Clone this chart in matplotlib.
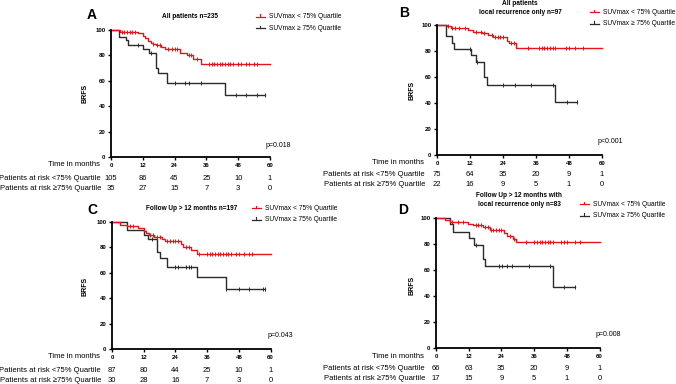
import numpy as np
import matplotlib
matplotlib.use('Agg')
import matplotlib.pyplot as plt
from matplotlib.lines import Line2D
from matplotlib.transforms import blended_transform_factory

plt.rcParams['font.family'] = ['Liberation Sans', 'DejaVu Sans']

W, H = 676, 384
RED = '#e8141c'
BLK = '#2b2b2b'

time_ticks = [0, 12, 24, 36, 48, 60]
surv_ticks = [0, 20, 40, 60, 80, 100]
legend_low = 'SUVmax < 75% Quartile'
legend_high = 'SUVmax \u2265 75% Quartile'
row_low = 'Patients at risk <75% Quartile'
row_high = 'Patients at risk \u226575% Quartile'

# A: all patients
a_low_t = [0, 3.5, 10, 12, 13, 14, 15, 16, 17, 19, 20.5, 26, 28.5, 31, 34, 60]
a_low_s = [100, 98.5, 97.5, 95.5, 93.5, 91.5, 90, 89, 88, 86.5, 85, 82, 80, 77.5, 73, 73]
a_low_c = [4, 5, 6, 7, 8, 9, 16, 17.5, 18.5, 21.5, 23, 24, 25, 29.5, 30, 32.5,
           37, 38, 39, 40, 41, 42, 43, 44, 45, 46, 48, 49, 51, 52, 54, 55]
a_high_t = [0, 3, 5.5, 6.3, 12.2, 14.3, 16.8, 17.8, 21, 43, 58]
a_high_s = [100, 94.5, 92, 88, 85, 81.5, 70, 66.5, 58.5, 48.6, 48.6]
a_high_c = [10, 15, 24, 28, 29.5, 34, 47, 51, 55, 58]
a_risk_low = [105, 86, 45, 25, 10, 1]
a_risk_high = [35, 27, 15, 7, 3, 0]

# B: all patients, local recurrence only
b_low_t = [0, 3.5, 5, 11.4, 13.2, 16.2, 18.7, 20.5, 25.3, 26.3, 28.7, 60]
b_low_s = [100, 99, 98, 96.2, 94.6, 93.6, 92.3, 91, 88, 86, 82.5, 82.5]
b_low_c = [4, 5.5, 6.5, 8, 10, 14, 16, 17, 20, 21, 22, 23, 24, 27, 28, 33,
           37, 38, 39, 40, 41, 42, 43, 47, 48, 50, 53]
b_high_t = [0, 3.3, 5.5, 6.2, 12.2, 14, 17, 18.3, 43, 51]
b_high_s = [100, 91.5, 86.4, 81.5, 76.9, 71.8, 59.7, 53.8, 41, 41]
b_high_c = [12, 14.5, 24, 28.3, 34.2, 42.3, 47.1, 51]
b_risk_low = [75, 64, 35, 20, 9, 1]
b_risk_high = [22, 16, 9, 5, 1, 0]

# C: follow up > 12 months
c_low_t = [0, 3, 5.5, 10, 12, 13, 14, 16, 19, 20, 26, 27, 30, 32, 60]
c_low_s = [100, 98, 96.5, 95, 93, 91, 90, 88.5, 87, 85, 83, 80.5, 78, 75, 75]
c_low_c = [7, 8, 14.5, 15.5, 17, 18, 21, 22, 23, 24, 25, 28, 29, 33, 36, 37,
           38, 39, 40, 41, 42, 43, 44, 45, 47, 48, 50, 52, 53]
c_high_t = [0, 5.5, 12, 13.5, 17, 18, 21, 32, 43, 58]
c_high_s = [100, 93.5, 90, 87, 76, 72, 64.5, 57, 47.5, 47.5]
c_high_c = [15, 24, 25, 28, 29, 30, 43, 48, 52, 57, 58]
c_risk_low = [87, 80, 44, 25, 10, 1]
c_risk_high = [30, 28, 16, 7, 3, 0]

# D: follow up > 12 months, local recurrence only
d_low_t = [0, 3.3, 5.1, 11.9, 13.7, 17.4, 19.9, 24.8, 26, 28.4, 29.4, 60]
d_low_s = [100, 98.7, 97.2, 95.7, 94.6, 92.9, 91.1, 88.5, 86, 83.9, 81.4, 81.4]
d_low_c = [6, 8, 10, 14.5, 15.5, 16.5, 18, 19, 20, 21, 22, 23, 24, 27, 28.5, 33,
           36, 37, 38, 39, 40, 41, 42, 43, 46, 47, 48, 51, 53]
d_high_t = [0, 5.1, 6.4, 12.2, 14.1, 17.2, 18, 43.1, 51]
d_high_s = [100, 95.4, 89.6, 84.7, 79.3, 68.6, 62.8, 47, 47]
d_high_c = [14.7, 23, 24.1, 26, 27.9, 34, 42, 47, 51]
d_risk_low = [66, 63, 35, 20, 9, 1]
d_risk_high = [17, 15, 9, 5, 1, 0]

# layout in pixels: letter, title, p, axes box (x0, x60, y100, y0), label x, label align
panels = [
    ('A', 'All patients n=235', 'p=0.018', (111, 270, 30, 157), 101,
     (a_low_t, a_low_s, a_low_c), (a_high_t, a_high_s, a_high_c), a_risk_low, a_risk_high,
     dict(letter=(92, 15), title=(190, 17), leg=(260, 16.5), p=(291, 145), brfs=(85, 93),
          tim=165, rows=(179, 188.5))),
    ('B', 'All patients\nlocal recurrence only n=97', 'p<0.001', (437, 602, 25, 155), 425,
     (b_low_t, b_low_s, b_low_c), (b_high_t, b_high_s, b_high_c), b_risk_low, b_risk_high,
     dict(letter=(404, 13), title=(520, 8), leg=(594, 12.3), p=(623, 141.5), brfs=(412, 90),
          tim=162.5, rows=(174.5, 184.5))),
    ('C', 'Follow Up > 12 months n=197', 'p=0.043', (112, 270.5, 222, 349), 101,
     (c_low_t, c_low_s, c_low_c), (c_high_t, c_high_s, c_high_c), c_risk_low, c_risk_high,
     dict(letter=(92, 210.5), title=(192, 208.5), leg=(256, 208.3), p=(293, 335.5), brfs=(85, 286.5),
          tim=356.5, rows=(371, 380))),
    ('D', 'Follow Up > 12 months with\nlocal recurrence only n=83', 'p=0.008', (436, 599.5, 218, 348), 425,
     (d_low_t, d_low_s, d_low_c), (d_high_t, d_high_s, d_high_c), d_risk_low, d_risk_high,
     dict(letter=(403, 210), title=(519, 200), leg=(584, 204.3), p=(621, 334.3), brfs=(412.5, 285),
          tim=356.5, rows=(369, 379))),
]

fig = plt.figure(figsize=(W / 100, H / 100), dpi=100)


def px(x, y):
    return x / W, 1 - y / H


def surv_at(t, s, times):
    idx = np.searchsorted(np.asarray(t), np.asarray(times), side='right') - 1
    return np.asarray(s)[np.clip(idx, 0, len(s) - 1)]


for letter, title, pval, box, lab_x, low, high, risk_low, risk_high, pos in panels:
    x0, x60, y100, y0 = box
    ax = fig.add_axes([x0 / W, 1 - y0 / H, (x60 - x0) / W, (y0 - y100) / H])
    ax.set_xlim(0, 60)
    ax.set_ylim(0, 100)
    for (t, s, c), col in ((high, BLK), (low, RED)):
        ax.step(t, s, where='post', color=col, lw=1.0, clip_on=False)
        ax.plot(c, surv_at(t, s, c), ls='none', marker='|', ms=3.4, mew=0.7,
                color=col, clip_on=False)
    for side in ('top', 'right'):
        ax.spines[side].set_visible(False)
    for side in ('left', 'bottom'):
        ax.spines[side].set_linewidth(1.3)
    ax.set_xticks(time_ticks)
    ax.set_yticks(surv_ticks)
    ax.tick_params(direction='out', length=2.5, width=1.0, labelsize=4.3, pad=1.5)
    for lb in ax.get_xticklabels() + ax.get_yticklabels():
        lb.set_fontweight('bold')

    fig.text(*px(*pos['letter']), letter, fontsize=10, fontweight='bold', ha='center', va='center')
    fig.text(*px(*pos['title']), title, fontsize=4.7, fontweight='bold', ha='center', va='center',
             linespacing=1.25)
    fig.text(*px(*pos['brfs']), 'BRFS', fontsize=5, fontweight='bold', rotation=90,
             ha='center', va='center')
    fig.text(*px(*pos['p']), pval, fontsize=5, ha='right', va='center')

    lx, ly = pos['leg']
    for k, (lab, col) in enumerate(((legend_low, RED), (legend_high, BLK))):
        yy = ly + k * 11.5
        fig.add_artist(Line2D([(lx - 4.5) / W, (lx + 4.5) / W], [1 - yy / H] * 2, color=col, lw=0.9))
        fig.add_artist(Line2D([lx / W] * 2, [1 - yy / H, 1 - (yy - 2.5) / H], color=col, lw=0.8))
        fig.text(*px(lx + 9, yy), lab, fontsize=4.8, ha='left', va='center')

    fig.text(*px(lab_x - 1, pos['tim']), 'Time in months', fontsize=5.5, ha='right', va='center')
    tr = blended_transform_factory(ax.transData, fig.transFigure)
    for row_lab, vals, yy in ((row_low, risk_low, pos['rows'][0]), (row_high, risk_high, pos['rows'][1])):
        fig.text(*px(lab_x, yy), row_lab, fontsize=5.5, ha='right', va='center')
        for tt, v in zip(time_ticks, vals):
            fig.text(tt, 1 - yy / H, str(v), transform=tr, fontsize=5.5, ha='center', va='center')

fig.savefig('out.png', dpi=100)
